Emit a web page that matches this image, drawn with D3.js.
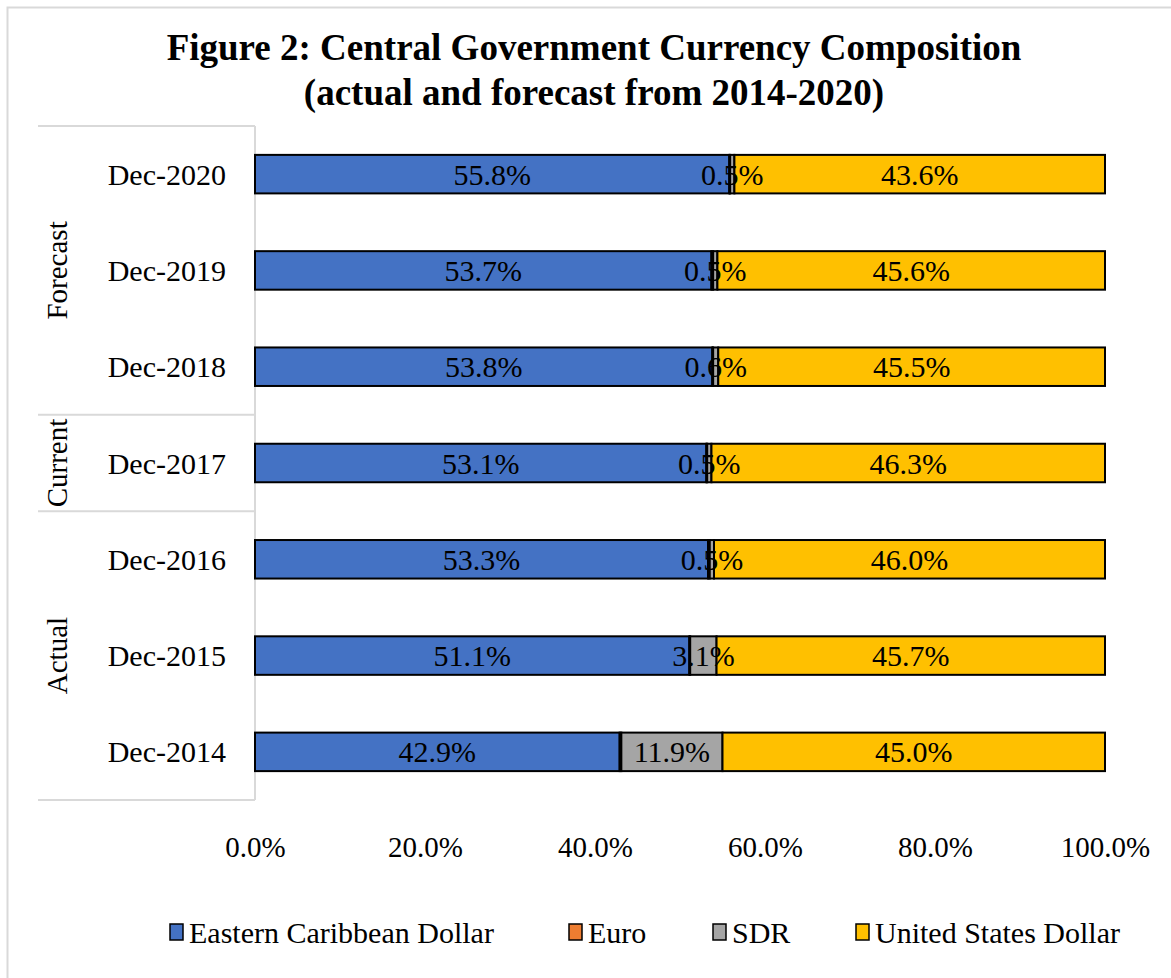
<meta charset="utf-8">
<style>
body { margin: 0; background: #fff; }
text { font-family: "Liberation Serif", "DejaVu Serif", serif; fill: #000; }
</style>
<body>
<div id="chart"></div>
<script src="https://cdn.jsdelivr.net/npm/d3@7"></script>
<script>
// chart values (bottom row first)
var categories = ["Dec-2014", "Dec-2015", "Dec-2016", "Dec-2017", "Dec-2018", "Dec-2019", "Dec-2020"];
var seriesNames = ["Eastern Caribbean Dollar", "Euro", "SDR", "United States Dollar"];
var ecd  = [42.9, 51.1, 53.3, 53.1, 53.8, 53.7, 55.8];
var euro = [0.2, 0.1, 0.2, 0.1, 0.1, 0.2, 0.1];
var sdr  = [11.9, 3.1, 0.5, 0.5, 0.6, 0.5, 0.5];
var usd  = [45.0, 45.7, 46.0, 46.3, 45.5, 45.6, 43.6];
var xTicks = [0, 20, 40, 60, 80, 100];
var groups = [
    {name: "Actual", from: "Dec-2014", to: "Dec-2016"},
    {name: "Current", from: "Dec-2017", to: "Dec-2017"},
    {name: "Forecast", from: "Dec-2018", to: "Dec-2020"}
];
var colors = ["#4472C4", "#ED7D31", "#A5A5A5", "#FFC000"];

var W = 1171, H = 978;
var margin = {top: 126, left: 255, right: 66, bottom: 178};

var svg = d3.select("#chart").append("svg")
    .attr("width", W).attr("height", H);

// outer chart border (only top and left edges fall inside the frame)
svg.append("rect")
    .attr("x", 7.5).attr("y", 7.5)
    .attr("width", W + 20).attr("height", H + 20)
    .attr("fill", "none").attr("stroke", "#d9d9d9").attr("stroke-width", 2);

svg.append("text")
    .attr("x", 594).attr("y", 60)
    .attr("text-anchor", "middle")
    .style("font-size", "37px").style("font-weight", "bold")
    .text("Figure 2: Central Government Currency Composition");
svg.append("text")
    .attr("x", 594).attr("y", 105)
    .attr("text-anchor", "middle")
    .style("font-size", "37px").style("font-weight", "bold")
    .text("(actual and forecast from 2014-2020)");

var rows = categories.map(function(c, i) {
    return {cat: c, ecd: ecd[i], euro: euro[i], sdr: sdr[i], usd: usd[i]};
});
var keys = ["ecd", "euro", "sdr", "usd"];

var x = d3.scaleLinear().domain([0, 100]).range([margin.left, W - margin.right]);
var y = d3.scaleBand()
    .domain(categories.slice().reverse())
    .range([margin.top, H - margin.bottom])
    .paddingInner(0.6).paddingOuter(0.3);

var layers = d3.stack().keys(keys)(rows);

// axis frame on the left: category column and group boxes
var grey = "#d9d9d9";
var axisG = svg.append("g");
axisG.append("line")
    .attr("x1", x(0)).attr("x2", x(0))
    .attr("y1", y.range()[0]).attr("y2", y.range()[1])
    .attr("stroke", grey).attr("stroke-width", 2);

function bandTop(c) { return y(c) - y.step() * y.paddingInner() / 2; }
function bandBottom(c) { return y(c) + y.bandwidth() + y.step() * y.paddingInner() / 2; }

var edges = [y.range()[0], y.range()[1]];
groups.forEach(function(g) { edges.push(bandTop(g.to)); });
axisG.selectAll(".sep")
    .data(edges)
    .enter().append("line")
    .attr("x1", 38).attr("x2", x(0))
    .attr("y1", function(d) { return d; }).attr("y2", function(d) { return d; })
    .attr("stroke", grey).attr("stroke-width", 2);

axisG.selectAll(".grp")
    .data(groups)
    .enter().append("text")
    .attr("transform", function(g) {
        var cy = (bandTop(g.to) + bandBottom(g.from)) / 2;
        return "translate(67," + cy + ") rotate(-90)";
    })
    .attr("text-anchor", "middle")
    .style("font-size", "29px")
    .text(function(g) { return g.name; });

axisG.selectAll(".cat")
    .data(categories)
    .enter().append("text")
    .attr("x", 226)
    .attr("y", function(d) { return y(d) + y.bandwidth() / 2; })
    .attr("dy", "0.35em")
    .attr("text-anchor", "end")
    .style("font-size", "30px")
    .text(function(d) { return d; });

// bars
var layerG = svg.selectAll(".layer")
    .data(layers)
    .enter().append("g")
    .attr("fill", function(d, i) { return colors[i]; });

layerG.selectAll("rect")
    .data(function(d) { return d; })
    .enter().append("rect")
    .attr("x", function(d) { return x(d[0]); })
    .attr("width", function(d) { return x(d[1]) - x(d[0]); })
    .attr("y", function(d) { return y(d.data.cat); })
    .attr("height", y.bandwidth())
    .attr("stroke", "#000").attr("stroke-width", 2);

// data labels on top of all bars (euro slices are too thin to label)
var labelG = svg.selectAll(".labels")
    .data(layers.filter(function(d) { return d.key !== "euro"; }))
    .enter().append("g");
labelG.selectAll("text")
    .data(function(d) { return d; })
    .enter().append("text")
    .attr("x", function(d) { return (x(d[0]) + x(d[1])) / 2; })
    .attr("y", function(d) { return y(d.data.cat) + y.bandwidth() / 2; })
    .attr("dy", "0.35em")
    .attr("text-anchor", "middle")
    .style("font-size", "30px")
    .text(function(d) { return (d[1] - d[0]).toFixed(1) + "%"; });

// x axis labels
var xAxis = d3.axisBottom(x)
    .tickValues(xTicks)
    .tickSize(0)
    .tickFormat(function(d) { return d.toFixed(1) + "%"; });
var xg = svg.append("g")
    .attr("transform", "translate(0," + (H - margin.bottom) + ")")
    .call(xAxis);
xg.select(".domain").remove();
xg.selectAll("text")
    .attr("y", 36)
    .style("font-size", "29px")
    .style("font-family", "Liberation Serif, serif")
    .attr("fill", "#000");

// legend
var legendX = [170, 569, 713, 856];
var lg = svg.selectAll(".leg")
    .data(seriesNames)
    .enter().append("g")
    .attr("transform", function(d, i) { return "translate(" + legendX[i] + ",932)"; });
lg.append("rect")
    .attr("x", 0).attr("y", -8)
    .attr("width", 13).attr("height", 16)
    .attr("fill", function(d, i) { return colors[i]; })
    .attr("stroke", "#000").attr("stroke-width", 1.5);
lg.append("text")
    .attr("x", 19).attr("dy", "0.35em")
    .style("font-size", "30px")
    .text(function(d) { return d; });
</script>
</body>
